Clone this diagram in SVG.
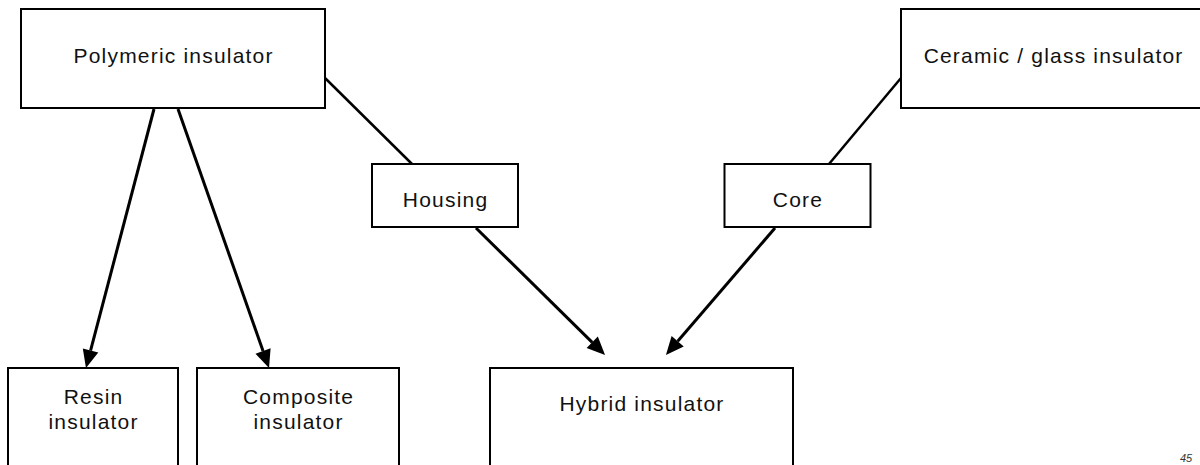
<svg xmlns="http://www.w3.org/2000/svg" width="1200" height="465" viewBox="0 0 1200 465">
  <style>
    .box { fill: #ffffff; stroke: #000000; stroke-width: 2; }
    .lbl { font-family: "Liberation Sans", Arial, sans-serif; font-size: 21px; fill: #111111; text-anchor: middle; letter-spacing: 1.2px; }
    .con { stroke: #000000; stroke-width: 3; fill: none; }
    .plain { stroke: #000000; stroke-width: 2.5; fill: none; }
    .note { font-family: "Liberation Sans", Arial, sans-serif; font-size: 11px; fill: #333333; font-style: italic; }
  </style>
  <defs>
    <marker id="arrow" markerUnits="userSpaceOnUse" viewBox="0 -8 18 16" markerWidth="18" markerHeight="16" refX="0" refY="0" orient="auto" overflow="visible">
      <path d="M0,-8 L18,0 L0,8 z" fill="#000000"/>
    </marker>
  </defs>
  <rect width="1200" height="465" fill="#ffffff"/>

  <g id="connectors">
    <line class="plain" x1="325" y1="78" x2="412" y2="164"/>
    <line class="plain" x1="901" y1="78" x2="829" y2="164"/>
    <line class="con" x1="154" y1="109" x2="90.55" y2="350.58" marker-end="url(#arrow)"/>
    <line class="con" x1="178" y1="109" x2="263.05" y2="351.01" marker-end="url(#arrow)"/>
    <line class="con" x1="476" y1="228" x2="592.22" y2="342.32" marker-end="url(#arrow)"/>
    <line class="con" x1="775" y1="228" x2="677.67" y2="341.29" marker-end="url(#arrow)"/>
  </g>

  <g id="polymeric">
    <rect class="box" x="21" y="9" width="304" height="99"/>
    <text class="lbl" x="173.6" y="63">Polymeric insulator</text>
  </g>
  <g id="ceramic">
    <rect class="box" x="901" y="9" width="304" height="99"/>
    <text class="lbl" x="1053.6" y="63">Ceramic / glass insulator</text>
  </g>
  <g id="housing">
    <rect class="box" x="372" y="164" width="146" height="63"/>
    <text class="lbl" x="445.6" y="207">Housing</text>
  </g>
  <g id="core">
    <rect class="box" x="724.5" y="164" width="146" height="63"/>
    <text class="lbl" x="798" y="207">Core</text>
  </g>
  <g id="resin">
    <rect class="box" x="8" y="368" width="170" height="120"/>
    <text class="lbl" x="93.6" y="404">Resin</text>
    <text class="lbl" x="93.6" y="429">insulator</text>
  </g>
  <g id="composite">
    <rect class="box" x="197" y="368" width="202" height="120"/>
    <text class="lbl" x="298.6" y="404">Composite</text>
    <text class="lbl" x="298.6" y="429">insulator</text>
  </g>
  <g id="hybrid">
    <rect class="box" x="490" y="368" width="303" height="120"/>
    <text class="lbl" x="642" y="411">Hybrid insulator</text>
  </g>
  <text class="note" x="1180" y="462">45</text>
</svg>
